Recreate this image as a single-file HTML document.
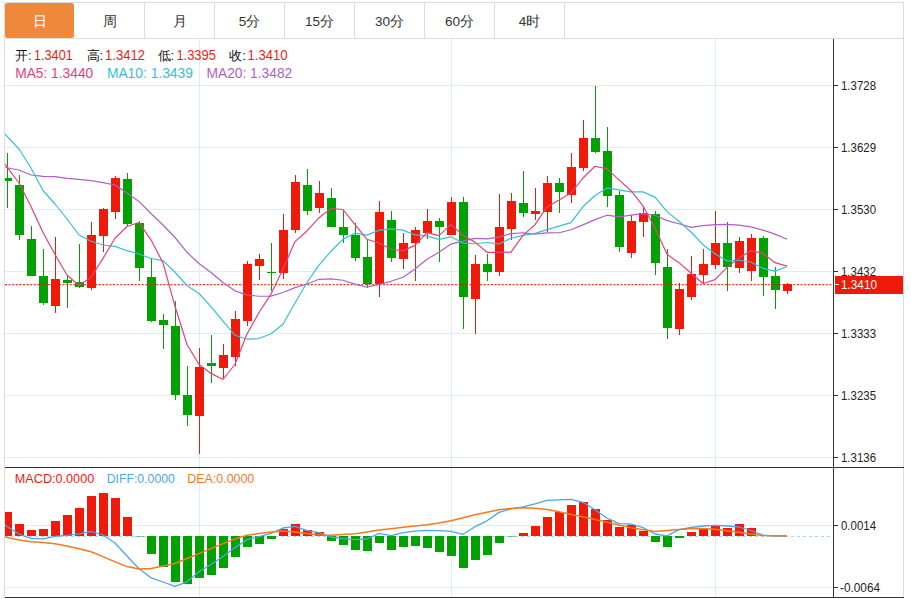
<!DOCTYPE html><html><head><meta charset="utf-8"><style>html,body{margin:0;padding:0;background:#fff;width:911px;height:599px;overflow:hidden}</style></head><body><svg width="911" height="599" viewBox="0 0 911 599" style="display:block">
<defs><clipPath id="main"><rect x="5" y="39" width="828" height="428"/></clipPath><clipPath id="macd"><rect x="5" y="468" width="828" height="129"/></clipPath></defs>
<rect width="911" height="599" fill="#fff"/>
<g shape-rendering="crispEdges">
<rect x="4" y="2" width="900" height="1" fill="#dcdcdc"/>
<rect x="4" y="38" width="900" height="1" fill="#dcdcdc"/>
<rect x="4" y="2" width="1" height="596" fill="#dcdcdc"/>
<rect x="903" y="2" width="1" height="596" fill="#dcdcdc"/>
<rect x="144" y="2" width="1" height="37" fill="#dcdcdc"/>
<rect x="214" y="2" width="1" height="37" fill="#dcdcdc"/>
<rect x="284" y="2" width="1" height="37" fill="#dcdcdc"/>
<rect x="354" y="2" width="1" height="37" fill="#dcdcdc"/>
<rect x="424" y="2" width="1" height="37" fill="#dcdcdc"/>
<rect x="494" y="2" width="1" height="37" fill="#dcdcdc"/>
<rect x="564" y="2" width="1" height="37" fill="#dcdcdc"/>
</g>
<rect x="5" y="3" width="69" height="35" rx="2.5" fill="#f0883c"/>
<g shape-rendering="crispEdges">
<rect x="5" y="85" width="828" height="1" fill="#e0ecf4"/>
<rect x="5" y="147" width="828" height="1" fill="#e0ecf4"/>
<rect x="5" y="209" width="828" height="1" fill="#e0ecf4"/>
<rect x="5" y="271" width="828" height="1" fill="#e0ecf4"/>
<rect x="5" y="333" width="828" height="1" fill="#e0ecf4"/>
<rect x="5" y="395" width="828" height="1" fill="#e0ecf4"/>
<rect x="5" y="457" width="828" height="1" fill="#e0ecf4"/>
<rect x="5" y="525" width="828" height="1" fill="#e0ecf4"/>
<rect x="5" y="587" width="828" height="1" fill="#e0ecf4"/>
<rect x="199" y="39" width="1" height="558" fill="#e0ecf4"/>
<rect x="451" y="39" width="1" height="558" fill="#e0ecf4"/>
<rect x="715" y="39" width="1" height="558" fill="#e0ecf4"/>
<rect x="833" y="39" width="1" height="559" fill="#333333"/>
<rect x="5" y="467" width="899" height="1" fill="#333333"/>
<rect x="5" y="597" width="899" height="1" fill="#333333"/>
<rect x="834" y="85" width="4" height="1" fill="#333333"/>
<rect x="834" y="147" width="4" height="1" fill="#333333"/>
<rect x="834" y="209" width="4" height="1" fill="#333333"/>
<rect x="834" y="271" width="4" height="1" fill="#333333"/>
<rect x="834" y="333" width="4" height="1" fill="#333333"/>
<rect x="834" y="395" width="4" height="1" fill="#333333"/>
<rect x="834" y="457" width="4" height="1" fill="#333333"/>
<rect x="834" y="525" width="4" height="1" fill="#333333"/>
<rect x="834" y="587" width="4" height="1" fill="#333333"/>
</g>
<g shape-rendering="crispEdges" clip-path="url(#main)">
<rect x="7" y="153" width="1" height="55" fill="#00a100"/>
<rect x="3" y="178" width="9" height="3" fill="#00a100"/>
<rect x="19" y="175" width="1" height="65" fill="#00a100"/>
<rect x="15" y="185" width="9" height="50" fill="#00a100"/>
<rect x="31" y="226" width="1" height="50" fill="#00a100"/>
<rect x="27" y="239" width="9" height="37" fill="#00a100"/>
<rect x="43" y="249" width="1" height="56" fill="#00a100"/>
<rect x="39" y="276" width="9" height="27" fill="#00a100"/>
<rect x="55" y="237" width="1" height="76" fill="#f01a0a"/>
<rect x="51" y="279" width="9" height="27" fill="#f01a0a"/>
<rect x="67" y="275" width="1" height="33" fill="#00a100"/>
<rect x="63" y="280" width="9" height="3" fill="#00a100"/>
<rect x="79" y="244" width="1" height="44" fill="#00a100"/>
<rect x="75" y="282" width="9" height="5" fill="#00a100"/>
<rect x="91" y="222" width="1" height="68" fill="#f01a0a"/>
<rect x="87" y="235" width="9" height="53" fill="#f01a0a"/>
<rect x="103" y="208" width="1" height="44" fill="#f01a0a"/>
<rect x="99" y="209" width="9" height="27" fill="#f01a0a"/>
<rect x="115" y="176" width="1" height="43" fill="#f01a0a"/>
<rect x="111" y="178" width="9" height="34" fill="#f01a0a"/>
<rect x="127" y="173" width="1" height="53" fill="#00a100"/>
<rect x="123" y="179" width="9" height="45" fill="#00a100"/>
<rect x="139" y="221" width="1" height="60" fill="#00a100"/>
<rect x="135" y="223" width="9" height="45" fill="#00a100"/>
<rect x="151" y="258" width="1" height="64" fill="#00a100"/>
<rect x="147" y="277" width="9" height="44" fill="#00a100"/>
<rect x="163" y="314" width="1" height="35" fill="#00a100"/>
<rect x="159" y="320" width="9" height="5" fill="#00a100"/>
<rect x="175" y="301" width="1" height="99" fill="#00a100"/>
<rect x="171" y="326" width="9" height="69" fill="#00a100"/>
<rect x="187" y="366" width="1" height="60" fill="#00a100"/>
<rect x="183" y="395" width="9" height="20" fill="#00a100"/>
<rect x="199" y="348" width="1" height="106" fill="#f01a0a"/>
<rect x="195" y="367" width="9" height="49" fill="#f01a0a"/>
<rect x="211" y="335" width="1" height="48" fill="#00a100"/>
<rect x="207" y="363" width="9" height="3" fill="#00a100"/>
<rect x="223" y="344" width="1" height="35" fill="#f01a0a"/>
<rect x="219" y="355" width="9" height="13" fill="#f01a0a"/>
<rect x="235" y="311" width="1" height="55" fill="#f01a0a"/>
<rect x="231" y="319" width="9" height="38" fill="#f01a0a"/>
<rect x="247" y="261" width="1" height="65" fill="#f01a0a"/>
<rect x="243" y="264" width="9" height="57" fill="#f01a0a"/>
<rect x="259" y="254" width="1" height="26" fill="#f01a0a"/>
<rect x="255" y="259" width="9" height="7" fill="#f01a0a"/>
<rect x="271" y="243" width="1" height="48" fill="#00a100"/>
<rect x="267" y="272" width="9" height="1" fill="#00a100"/>
<rect x="283" y="214" width="1" height="65" fill="#f01a0a"/>
<rect x="279" y="230" width="9" height="43" fill="#f01a0a"/>
<rect x="295" y="175" width="1" height="58" fill="#f01a0a"/>
<rect x="291" y="182" width="9" height="48" fill="#f01a0a"/>
<rect x="307" y="169" width="1" height="46" fill="#00a100"/>
<rect x="303" y="185" width="9" height="26" fill="#00a100"/>
<rect x="319" y="181" width="1" height="32" fill="#f01a0a"/>
<rect x="315" y="193" width="9" height="15" fill="#f01a0a"/>
<rect x="331" y="188" width="1" height="39" fill="#00a100"/>
<rect x="327" y="198" width="9" height="29" fill="#00a100"/>
<rect x="343" y="210" width="1" height="33" fill="#00a100"/>
<rect x="339" y="227" width="9" height="8" fill="#00a100"/>
<rect x="355" y="223" width="1" height="38" fill="#00a100"/>
<rect x="351" y="235" width="9" height="23" fill="#00a100"/>
<rect x="367" y="240" width="1" height="48" fill="#00a100"/>
<rect x="363" y="257" width="9" height="27" fill="#00a100"/>
<rect x="379" y="201" width="1" height="96" fill="#f01a0a"/>
<rect x="375" y="212" width="9" height="72" fill="#f01a0a"/>
<rect x="391" y="211" width="1" height="51" fill="#00a100"/>
<rect x="387" y="220" width="9" height="38" fill="#00a100"/>
<rect x="403" y="233" width="1" height="36" fill="#f01a0a"/>
<rect x="399" y="243" width="9" height="16" fill="#f01a0a"/>
<rect x="415" y="227" width="1" height="54" fill="#f01a0a"/>
<rect x="411" y="230" width="9" height="13" fill="#f01a0a"/>
<rect x="427" y="209" width="1" height="30" fill="#f01a0a"/>
<rect x="423" y="221" width="9" height="12" fill="#f01a0a"/>
<rect x="439" y="218" width="1" height="44" fill="#00a100"/>
<rect x="435" y="221" width="9" height="6" fill="#00a100"/>
<rect x="451" y="197" width="1" height="38" fill="#f01a0a"/>
<rect x="447" y="202" width="9" height="33" fill="#f01a0a"/>
<rect x="463" y="197" width="1" height="132" fill="#00a100"/>
<rect x="459" y="202" width="9" height="95" fill="#00a100"/>
<rect x="475" y="255" width="1" height="79" fill="#f01a0a"/>
<rect x="471" y="264" width="9" height="35" fill="#f01a0a"/>
<rect x="487" y="254" width="1" height="27" fill="#00a100"/>
<rect x="483" y="264" width="9" height="8" fill="#00a100"/>
<rect x="499" y="194" width="1" height="82" fill="#f01a0a"/>
<rect x="495" y="227" width="9" height="45" fill="#f01a0a"/>
<rect x="511" y="193" width="1" height="47" fill="#f01a0a"/>
<rect x="507" y="201" width="9" height="28" fill="#f01a0a"/>
<rect x="523" y="171" width="1" height="46" fill="#00a100"/>
<rect x="519" y="203" width="9" height="10" fill="#00a100"/>
<rect x="535" y="188" width="1" height="32" fill="#f01a0a"/>
<rect x="531" y="211" width="9" height="3" fill="#f01a0a"/>
<rect x="547" y="176" width="1" height="56" fill="#f01a0a"/>
<rect x="543" y="183" width="9" height="29" fill="#f01a0a"/>
<rect x="559" y="178" width="1" height="35" fill="#00a100"/>
<rect x="555" y="183" width="9" height="9" fill="#00a100"/>
<rect x="571" y="153" width="1" height="50" fill="#f01a0a"/>
<rect x="567" y="167" width="9" height="28" fill="#f01a0a"/>
<rect x="583" y="120" width="1" height="51" fill="#f01a0a"/>
<rect x="579" y="138" width="9" height="30" fill="#f01a0a"/>
<rect x="595" y="86" width="1" height="67" fill="#00a100"/>
<rect x="591" y="138" width="9" height="14" fill="#00a100"/>
<rect x="607" y="127" width="1" height="80" fill="#00a100"/>
<rect x="603" y="151" width="9" height="45" fill="#00a100"/>
<rect x="619" y="191" width="1" height="61" fill="#00a100"/>
<rect x="615" y="195" width="9" height="52" fill="#00a100"/>
<rect x="631" y="215" width="1" height="43" fill="#f01a0a"/>
<rect x="627" y="221" width="9" height="32" fill="#f01a0a"/>
<rect x="643" y="206" width="1" height="31" fill="#f01a0a"/>
<rect x="639" y="213" width="9" height="9" fill="#f01a0a"/>
<rect x="655" y="211" width="1" height="64" fill="#00a100"/>
<rect x="651" y="214" width="9" height="49" fill="#00a100"/>
<rect x="667" y="249" width="1" height="90" fill="#00a100"/>
<rect x="663" y="267" width="9" height="61" fill="#00a100"/>
<rect x="679" y="283" width="1" height="52" fill="#f01a0a"/>
<rect x="675" y="289" width="9" height="40" fill="#f01a0a"/>
<rect x="691" y="256" width="1" height="44" fill="#f01a0a"/>
<rect x="687" y="274" width="9" height="23" fill="#f01a0a"/>
<rect x="703" y="249" width="1" height="34" fill="#f01a0a"/>
<rect x="699" y="264" width="9" height="11" fill="#f01a0a"/>
<rect x="715" y="211" width="1" height="58" fill="#f01a0a"/>
<rect x="711" y="243" width="9" height="22" fill="#f01a0a"/>
<rect x="727" y="222" width="1" height="69" fill="#00a100"/>
<rect x="723" y="243" width="9" height="24" fill="#00a100"/>
<rect x="739" y="237" width="1" height="36" fill="#f01a0a"/>
<rect x="735" y="241" width="9" height="27" fill="#f01a0a"/>
<rect x="751" y="234" width="1" height="47" fill="#f01a0a"/>
<rect x="747" y="238" width="9" height="33" fill="#f01a0a"/>
<rect x="763" y="236" width="1" height="60" fill="#00a100"/>
<rect x="759" y="238" width="9" height="39" fill="#00a100"/>
<rect x="775" y="267" width="1" height="42" fill="#00a100"/>
<rect x="771" y="276" width="9" height="14" fill="#00a100"/>
<rect x="787" y="283" width="1" height="11" fill="#f01a0a"/>
<rect x="783" y="284" width="9" height="7" fill="#f01a0a"/>
</g>
<line x1="5" y1="284.6" x2="832" y2="284.6" stroke="#f01a0a" stroke-opacity="0.9" stroke-width="1.3" stroke-dasharray="2 1.6"/>
<g clip-path="url(#main)">
<polyline points="4.5,167.40 19.0,170.00 31.0,175.00 43.0,176.40 55.0,176.60 67.0,178.40 79.0,179.40 91.0,180.60 103.0,182.60 115.0,185.00 127.0,193.00 139.0,201.40 151.0,213.50 163.0,225.00 175.0,237.50 187.0,252.30 199.0,263.50 211.0,272.50 223.0,282.50 235.0,290.82 247.0,295.00 259.0,296.25 271.0,296.12 283.0,292.45 295.0,287.59 307.0,284.00 319.0,279.31 331.0,278.94 343.0,280.23 355.0,284.19 367.0,287.21 379.0,284.44 391.0,281.30 403.0,277.20 415.0,268.95 427.0,259.24 439.0,252.22 451.0,244.05 463.0,241.15 475.0,238.42 487.0,238.81 499.0,237.18 511.0,233.58 523.0,232.76 535.0,234.19 547.0,232.81 559.0,232.74 571.0,229.73 583.0,224.88 595.0,219.61 607.0,215.21 619.0,216.96 631.0,215.09 643.0,213.62 655.0,215.27 667.0,220.63 679.0,223.72 691.0,227.32 703.0,225.68 715.0,224.63 727.0,224.40 739.0,225.11 751.0,226.95 763.0,230.17 775.0,234.13 787.0,239.20" fill="none" stroke="#b060c8" stroke-width="1.2" stroke-linejoin="round"/>
<polyline points="4.5,133.60 19.0,149.00 31.0,168.00 43.0,190.50 55.0,204.00 67.0,219.00 79.0,235.00 91.0,241.30 103.0,245.00 115.0,246.38 127.0,250.70 139.0,254.00 151.0,258.52 163.0,260.68 175.0,272.25 187.0,285.50 199.0,293.50 211.0,306.60 223.0,321.23 235.0,335.27 247.0,339.30 259.0,338.49 271.0,333.73 283.0,324.23 295.0,302.93 307.0,282.50 319.0,265.12 331.0,251.28 343.0,239.22 355.0,233.10 367.0,235.12 379.0,230.38 391.0,228.88 403.0,230.18 415.0,234.97 427.0,235.97 439.0,239.32 451.0,236.82 463.0,243.07 475.0,243.74 487.0,242.49 499.0,243.97 511.0,238.29 523.0,235.34 535.0,233.42 547.0,229.64 559.0,226.17 571.0,222.64 583.0,206.69 595.0,195.47 607.0,187.93 619.0,189.95 631.0,191.90 643.0,191.90 655.0,197.12 667.0,211.62 679.0,221.28 691.0,232.01 703.0,244.66 715.0,253.80 727.0,260.88 739.0,260.27 751.0,262.00 763.0,268.44 775.0,271.14 787.0,266.78" fill="none" stroke="#34c0da" stroke-width="1.2" stroke-linejoin="round"/>
<polyline points="4.5,163.70 19.0,183.00 31.0,206.50 43.0,232.50 55.0,254.55 67.0,274.95 79.0,285.45 91.0,277.25 103.0,258.40 115.0,238.20 127.0,226.45 139.0,222.55 151.0,239.80 163.0,262.95 175.0,306.30 187.0,344.55 199.0,364.45 211.0,373.40 223.0,379.50 235.0,364.25 247.0,334.05 259.0,312.53 271.0,294.05 283.0,268.95 295.0,241.60 307.0,230.95 319.0,217.72 331.0,208.50 343.0,209.50 355.0,224.60 367.0,239.30 379.0,243.05 391.0,249.25 403.0,250.85 415.0,245.35 427.0,232.65 439.0,235.60 451.0,224.40 463.0,235.30 475.0,242.14 487.0,252.33 499.0,252.33 511.0,252.18 523.0,235.38 535.0,224.69 547.0,206.95 559.0,200.00 571.0,193.10 583.0,178.00 595.0,166.25 607.0,168.90 619.0,179.90 631.0,190.70 643.0,205.80 655.0,228.00 667.0,254.35 679.0,262.67 691.0,273.32 703.0,283.52 715.0,279.60 727.0,267.40 739.0,257.88 751.0,250.68 763.0,253.36 775.0,262.68 787.0,266.16" fill="none" stroke="#e8407a" stroke-width="1.2" stroke-linejoin="round"/>
</g>
<line x1="5" y1="536.5" x2="831" y2="536.5" stroke="#a9d9f2" stroke-width="1" stroke-dasharray="3 3" shape-rendering="crispEdges"/>
<g shape-rendering="crispEdges" clip-path="url(#macd)">
<rect x="3" y="512" width="9" height="24" fill="#f01a0a"/>
<rect x="15" y="524" width="9" height="12" fill="#f01a0a"/>
<rect x="27" y="530" width="9" height="6" fill="#f01a0a"/>
<rect x="39" y="529" width="9" height="7" fill="#f01a0a"/>
<rect x="51" y="521" width="9" height="15" fill="#f01a0a"/>
<rect x="63" y="515" width="9" height="21" fill="#f01a0a"/>
<rect x="75" y="508" width="9" height="28" fill="#f01a0a"/>
<rect x="87" y="496" width="9" height="40" fill="#f01a0a"/>
<rect x="99" y="493" width="9" height="43" fill="#f01a0a"/>
<rect x="111" y="498" width="9" height="38" fill="#f01a0a"/>
<rect x="123" y="517" width="9" height="19" fill="#f01a0a"/>
<rect x="135" y="536" width="9" height="1" fill="#00a100" fill-opacity="0.45"/>
<rect x="147" y="536" width="9" height="18" fill="#00a100"/>
<rect x="159" y="536" width="9" height="31" fill="#00a100"/>
<rect x="171" y="536" width="9" height="46" fill="#00a100"/>
<rect x="183" y="536" width="9" height="48" fill="#00a100"/>
<rect x="195" y="536" width="9" height="42" fill="#00a100"/>
<rect x="207" y="536" width="9" height="39" fill="#00a100"/>
<rect x="219" y="536" width="9" height="32" fill="#00a100"/>
<rect x="231" y="536" width="9" height="21" fill="#00a100"/>
<rect x="243" y="536" width="9" height="11" fill="#00a100"/>
<rect x="255" y="536" width="9" height="8" fill="#00a100"/>
<rect x="267" y="536" width="9" height="3" fill="#00a100"/>
<rect x="279" y="529" width="9" height="7" fill="#f01a0a"/>
<rect x="291" y="524" width="9" height="12" fill="#f01a0a"/>
<rect x="303" y="530" width="9" height="6" fill="#f01a0a"/>
<rect x="315" y="532" width="9" height="4" fill="#f01a0a"/>
<rect x="327" y="536" width="9" height="5" fill="#00a100"/>
<rect x="339" y="536" width="9" height="9" fill="#00a100"/>
<rect x="351" y="536" width="9" height="14" fill="#00a100"/>
<rect x="363" y="536" width="9" height="15" fill="#00a100"/>
<rect x="375" y="536" width="9" height="7" fill="#00a100"/>
<rect x="387" y="536" width="9" height="14" fill="#00a100"/>
<rect x="399" y="536" width="9" height="11" fill="#00a100"/>
<rect x="411" y="536" width="9" height="10" fill="#00a100"/>
<rect x="423" y="536" width="9" height="12" fill="#00a100"/>
<rect x="435" y="536" width="9" height="16" fill="#00a100"/>
<rect x="447" y="536" width="9" height="20" fill="#00a100"/>
<rect x="459" y="536" width="9" height="32" fill="#00a100"/>
<rect x="471" y="536" width="9" height="24" fill="#00a100"/>
<rect x="483" y="536" width="9" height="19" fill="#00a100"/>
<rect x="495" y="536" width="9" height="7" fill="#00a100"/>
<rect x="507" y="536" width="9" height="1" fill="#00a100" fill-opacity="0.45"/>
<rect x="519" y="533" width="9" height="3" fill="#f01a0a"/>
<rect x="531" y="526" width="9" height="10" fill="#f01a0a"/>
<rect x="543" y="517" width="9" height="19" fill="#f01a0a"/>
<rect x="555" y="512" width="9" height="24" fill="#f01a0a"/>
<rect x="567" y="505" width="9" height="31" fill="#f01a0a"/>
<rect x="579" y="502" width="9" height="34" fill="#f01a0a"/>
<rect x="591" y="509" width="9" height="27" fill="#f01a0a"/>
<rect x="603" y="520" width="9" height="16" fill="#f01a0a"/>
<rect x="615" y="527" width="9" height="9" fill="#f01a0a"/>
<rect x="627" y="525" width="9" height="11" fill="#f01a0a"/>
<rect x="639" y="531" width="9" height="5" fill="#f01a0a"/>
<rect x="651" y="536" width="9" height="6" fill="#00a100"/>
<rect x="663" y="536" width="9" height="11" fill="#00a100"/>
<rect x="675" y="536" width="9" height="2" fill="#00a100"/>
<rect x="687" y="532" width="9" height="4" fill="#f01a0a"/>
<rect x="699" y="528" width="9" height="8" fill="#f01a0a"/>
<rect x="711" y="526" width="9" height="10" fill="#f01a0a"/>
<rect x="723" y="528" width="9" height="8" fill="#f01a0a"/>
<rect x="735" y="524" width="9" height="12" fill="#f01a0a"/>
<rect x="747" y="528" width="9" height="8" fill="#f01a0a"/>
</g>
<g clip-path="url(#macd)">
<polyline points="4.5,525.00 19.0,534.00 31.0,538.40 43.0,538.90 55.0,536.40 67.0,535.40 79.0,533.80 91.0,531.50 103.0,535.00 115.0,543.00 127.0,556.00 139.0,568.70 151.0,577.80 163.0,582.00 175.0,586.40 187.0,581.80 199.0,571.80 211.0,564.50 223.0,556.50 235.0,547.60 247.0,539.60 259.0,536.70 271.0,533.30 283.0,528.00 295.0,526.30 307.0,530.70 319.0,532.70 331.0,537.00 343.0,538.60 355.0,539.60 367.0,539.00 379.0,533.30 391.0,535.70 403.0,532.70 415.0,531.10 427.0,530.30 439.0,530.70 451.0,531.30 463.0,534.30 475.0,526.70 487.0,520.80 499.0,512.40 511.0,508.80 523.0,506.80 535.0,503.90 547.0,500.30 559.0,499.90 571.0,499.30 583.0,502.30 595.0,509.80 607.0,518.20 619.0,523.70 631.0,524.00 643.0,527.60 655.0,534.00 667.0,535.80 679.0,529.60 691.0,527.50 703.0,526.00 715.0,525.30 727.0,526.00 739.0,527.00 751.0,530.50 763.0,535.20 775.0,536.00 787.0,536.00" fill="none" stroke="#4ba6ec" stroke-width="1.3" stroke-linejoin="round"/>
<polyline points="4.5,537.00 19.0,540.00 31.0,541.70 43.0,542.60 55.0,543.80 67.0,546.10 79.0,548.70 91.0,551.70 103.0,556.60 115.0,561.90 127.0,566.60 139.0,568.90 151.0,568.60 163.0,566.00 175.0,563.50 187.0,558.50 199.0,553.60 211.0,548.60 223.0,543.60 235.0,539.00 247.0,535.30 259.0,533.50 271.0,532.00 283.0,531.00 295.0,532.00 307.0,533.50 319.0,535.00 331.0,535.30 343.0,534.50 355.0,533.70 367.0,532.00 379.0,530.10 391.0,528.70 403.0,527.30 415.0,526.00 427.0,524.70 439.0,523.00 451.0,520.80 463.0,517.80 475.0,514.80 487.0,512.30 499.0,509.80 511.0,508.50 523.0,507.80 535.0,508.30 547.0,509.40 559.0,511.80 571.0,514.50 583.0,516.80 595.0,519.50 607.0,522.30 619.0,525.00 631.0,527.70 643.0,529.70 655.0,531.50 667.0,530.50 679.0,529.50 691.0,528.80 703.0,528.40 715.0,529.30 727.0,530.70 739.0,532.30 751.0,533.90 763.0,535.40 775.0,535.80 787.0,536.00" fill="none" stroke="#f5791f" stroke-width="1.5" stroke-linejoin="round"/>
</g>
<text x="39.5" y="25.5" fill="#fff" font-size="13.5" font-family="Liberation Sans, sans-serif" text-anchor="middle">日</text>
<text x="109.5" y="25.5" fill="#333" font-size="13.5" font-family="Liberation Sans, sans-serif" text-anchor="middle">周</text>
<text x="179.5" y="25.5" fill="#333" font-size="13.5" font-family="Liberation Sans, sans-serif" text-anchor="middle">月</text>
<text x="249.5" y="25.5" fill="#333" font-size="13.5" font-family="Liberation Sans, sans-serif" text-anchor="middle">5分</text>
<text x="319.5" y="25.5" fill="#333" font-size="13.5" font-family="Liberation Sans, sans-serif" text-anchor="middle">15分</text>
<text x="389.5" y="25.5" fill="#333" font-size="13.5" font-family="Liberation Sans, sans-serif" text-anchor="middle">30分</text>
<text x="459.5" y="25.5" fill="#333" font-size="13.5" font-family="Liberation Sans, sans-serif" text-anchor="middle">60分</text>
<text x="529.5" y="25.5" fill="#333" font-size="13.5" font-family="Liberation Sans, sans-serif" text-anchor="middle">4时</text>
<text x="841" y="89.5" fill="#222" font-size="12" font-family="Liberation Sans, sans-serif" textLength="35" lengthAdjust="spacingAndGlyphs" text-anchor="start">1.3728</text>
<text x="841" y="151.5" fill="#222" font-size="12" font-family="Liberation Sans, sans-serif" textLength="35" lengthAdjust="spacingAndGlyphs" text-anchor="start">1.3629</text>
<text x="841" y="213.5" fill="#222" font-size="12" font-family="Liberation Sans, sans-serif" textLength="35" lengthAdjust="spacingAndGlyphs" text-anchor="start">1.3530</text>
<text x="841" y="275.5" fill="#222" font-size="12" font-family="Liberation Sans, sans-serif" textLength="35" lengthAdjust="spacingAndGlyphs" text-anchor="start">1.3432</text>
<text x="841" y="337.5" fill="#222" font-size="12" font-family="Liberation Sans, sans-serif" textLength="35" lengthAdjust="spacingAndGlyphs" text-anchor="start">1.3333</text>
<text x="841" y="399.5" fill="#222" font-size="12" font-family="Liberation Sans, sans-serif" textLength="35" lengthAdjust="spacingAndGlyphs" text-anchor="start">1.3235</text>
<text x="841" y="461.5" fill="#222" font-size="12" font-family="Liberation Sans, sans-serif" textLength="35" lengthAdjust="spacingAndGlyphs" text-anchor="start">1.3136</text>
<text x="841" y="529.5" fill="#222" font-size="12" font-family="Liberation Sans, sans-serif" textLength="35" lengthAdjust="spacingAndGlyphs" text-anchor="start">0.0014</text>
<text x="840" y="591.5" fill="#222" font-size="12" font-family="Liberation Sans, sans-serif" textLength="40" lengthAdjust="spacingAndGlyphs" text-anchor="start">-0.0064</text>
<rect x="835" y="276" width="68" height="18" fill="#f01a0a" shape-rendering="crispEdges"/>
<rect x="835" y="284" width="4" height="1" fill="#fff" shape-rendering="crispEdges"/>
<text x="841" y="289" fill="#fff" font-size="12" font-family="Liberation Sans, sans-serif" textLength="36" lengthAdjust="spacingAndGlyphs" text-anchor="start">1.3410</text>
<text x="15" y="59.5" fill="#111" font-size="13" font-family="Liberation Sans, sans-serif" text-anchor="start">开:</text><text x="34" y="60.3" fill="#f41a14" font-size="14.4" font-family="Liberation Sans, sans-serif" textLength="38.7" lengthAdjust="spacingAndGlyphs" text-anchor="start">1.3401</text>
<text x="86.5" y="59.5" fill="#111" font-size="13" font-family="Liberation Sans, sans-serif" text-anchor="start">高:</text><text x="105" y="60.3" fill="#f41a14" font-size="14.4" font-family="Liberation Sans, sans-serif" textLength="40" lengthAdjust="spacingAndGlyphs" text-anchor="start">1.3412</text>
<text x="157.6" y="59.5" fill="#111" font-size="13" font-family="Liberation Sans, sans-serif" text-anchor="start">低:</text><text x="176.4" y="60.3" fill="#f41a14" font-size="14.4" font-family="Liberation Sans, sans-serif" textLength="39.5" lengthAdjust="spacingAndGlyphs" text-anchor="start">1.3395</text>
<text x="229.3" y="59.5" fill="#111" font-size="13" font-family="Liberation Sans, sans-serif" text-anchor="start">收:</text><text x="247.6" y="60.3" fill="#f41a14" font-size="14.4" font-family="Liberation Sans, sans-serif" textLength="40" lengthAdjust="spacingAndGlyphs" text-anchor="start">1.3410</text>
<text x="15.2" y="77.9" fill="#e8407a" font-size="14" font-family="Liberation Sans, sans-serif" textLength="78" lengthAdjust="spacingAndGlyphs" text-anchor="start">MA5: 1.3440</text>
<text x="106.9" y="77.9" fill="#34c0da" font-size="14" font-family="Liberation Sans, sans-serif" textLength="86" lengthAdjust="spacingAndGlyphs" text-anchor="start">MA10: 1.3439</text>
<text x="206.5" y="77.9" fill="#b060c8" font-size="14" font-family="Liberation Sans, sans-serif" textLength="85.7" lengthAdjust="spacingAndGlyphs" text-anchor="start">MA20: 1.3482</text>
<text x="14.8" y="483" fill="#f01a0a" font-size="12.5" font-family="Liberation Sans, sans-serif" textLength="79.4" lengthAdjust="spacingAndGlyphs" text-anchor="start">MACD:0.0000</text>
<text x="106.7" y="483" fill="#4ba6ec" font-size="12.5" font-family="Liberation Sans, sans-serif" textLength="68.2" lengthAdjust="spacingAndGlyphs" text-anchor="start">DIFF:0.0000</text>
<text x="187.3" y="483" fill="#f5791f" font-size="12.5" font-family="Liberation Sans, sans-serif" textLength="67" lengthAdjust="spacingAndGlyphs" text-anchor="start">DEA:0.0000</text>
</svg></body></html>
